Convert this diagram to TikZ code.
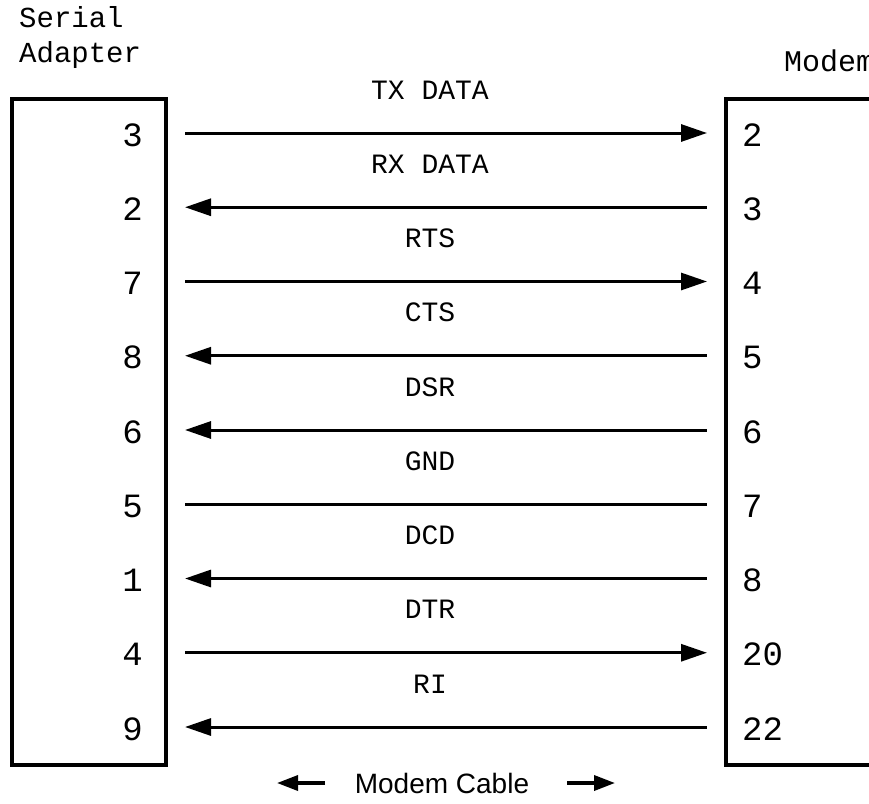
\documentclass[tikz,border=0pt]{standalone}
\usepackage{fontspec}
\usetikzlibrary{arrows.meta}
\newfontfamily\monofnt{Liberation Mono}
\newfontfamily\sansfnt{Liberation Sans}
\begin{document}
\begin{tikzpicture}[x=1pt,y=-1pt,
  boxst/.style={draw,line width=4pt},
  wire/.style={line width=3pt},
  tipR/.style={-{Triangle[length=26pt,width=17pt]}},
  tipL/.style={{Triangle[length=26pt,width=17pt]}-},
  lbl/.style={font=\monofnt\fontsize{28}{30}\selectfont,inner sep=0pt},
  pinL/.style={font=\monofnt\fontsize{34}{36}\selectfont,inner sep=0pt,anchor=east},
  pinR/.style={font=\monofnt\fontsize{34}{36}\selectfont,inner sep=0pt,anchor=west},
  hd/.style={font=\monofnt\fontsize{29}{35}\selectfont,inner sep=0pt,align=left}]
\useasboundingbox (0,0) rectangle (869,803);
\clip (0,0) rectangle (869,803);
% boxes
\draw[boxst] (12,99) rectangle (166,765);
\node[inner sep=0pt] (adapter) at (89,432) {};
\draw[boxst] (726,99) rectangle (900,765);
\node[inner sep=0pt] (modembox) at (800,432) {};
% headings
\node[hd,anchor=north west] (hserial) at (19,6) {Serial\\Adapter};
\node[font=\monofnt\fontsize{30}{35}\selectfont,inner sep=0pt,anchor=west] (hmodem) at (784,61) {Modem};
% rows
\foreach \i/\r/\l/\t [count=\k from 0] in {3/2/TX DATA/R,2/3/RX DATA/L,7/4/RTS/R,8/5/CTS/L,6/6/DSR/L,5/7/GND/N,1/8/DCD/L,4/20/DTR/R,9/22/RI/L}{
  \pgfmathsetmacro{\yy}{133+74.25*\k}
  \node[pinL] (pl\k) at (143,\yy+2) {\i};
  \node[pinR] (pr\k) at (742,\yy+2) {\r};
  \node[lbl] (sig\k) at (430,\yy-43) {\l};
  \coordinate (a\k) at (185,\yy);
  \coordinate (b\k) at (707,\yy);
}
\draw[wire,tipR] (a0) -- (b0);
\draw[wire,tipL] (a1) -- (b1);
\draw[wire,tipR] (a2) -- (b2);
\draw[wire,tipL] (a3) -- (b3);
\draw[wire,tipL] (a4) -- (b4);
\draw[wire] (a5) -- (b5);
\draw[wire,tipL] (a6) -- (b6);
\draw[wire,tipR] (a7) -- (b7);
\draw[wire,tipL] (a8) -- (b8);
% cable caption
\node[font=\sansfnt\fontsize{28}{30}\selectfont,inner sep=0pt] (cable) at (442,783) {Modem Cable};
\coordinate (cl1) at (325,783);
\coordinate (cl2) at (277,783);
\coordinate (cr1) at (567,783);
\coordinate (cr2) at (615,783);
\draw[line width=3.5pt,-{Triangle[length=21pt,width=15pt]}] (cl1) -- (cl2);
\draw[line width=3.5pt,-{Triangle[length=21pt,width=15pt]}] (cr1) -- (cr2);
\end{tikzpicture}
\end{document}
